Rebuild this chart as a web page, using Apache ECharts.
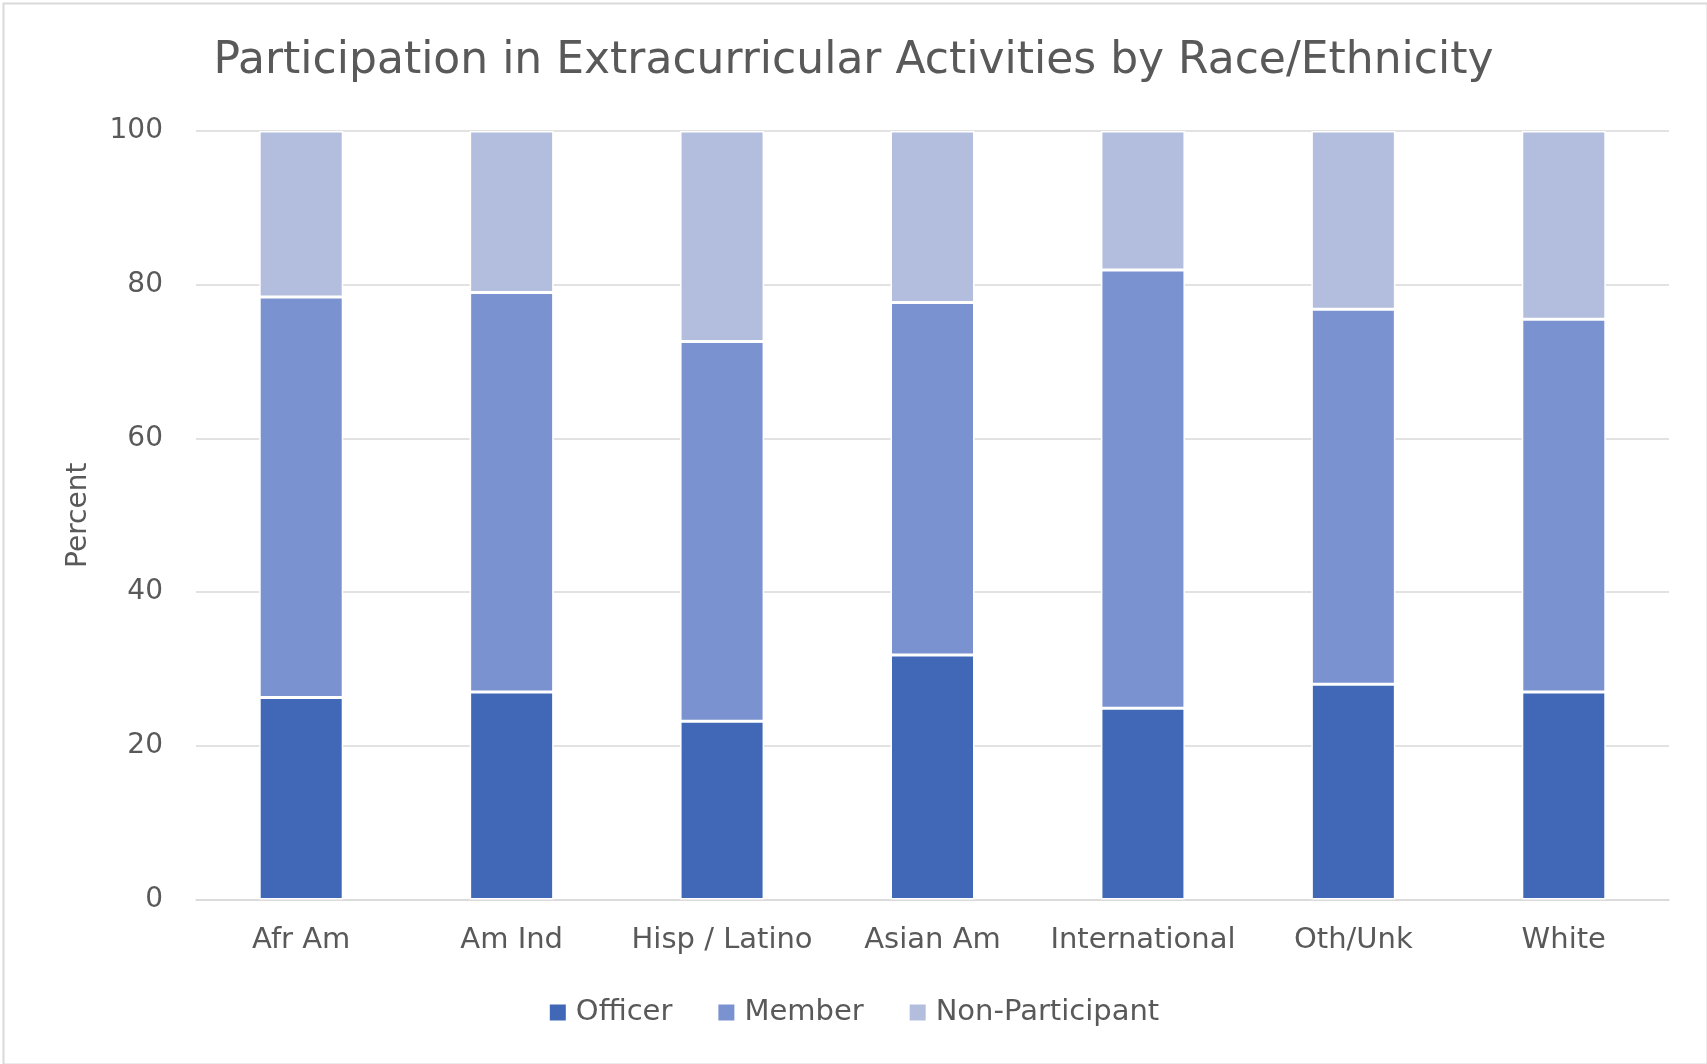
<!DOCTYPE html>
<html>
<head>
<meta charset="utf-8">
<script src="https://cdn.jsdelivr.net/npm/echarts@6/dist/echarts.min.js"></script>
<style>
html,body{margin:0;padding:0;background:#fff;}
#c{width:1707px;height:1064px;}
</style>
</head>
<body>
<div id="c"></div>
<script>
const categories = ["Afr Am", "Am Ind", "Hisp / Latino", "Asian Am", "International", "Oth/Unk", "White"];
const officer = [26.3, 27.0, 23.2, 31.8, 24.9, 28.0, 27.0];
const member = [52.1, 52.0, 49.4, 45.9, 57.0, 48.8, 48.5];
const nonParticipant = [21.6, 21.0, 27.4, 22.3, 18.1, 23.2, 24.5];
const yTicks = [0, 20, 40, 60, 80, 100];

const FONT = "'DejaVu Sans', sans-serif";
const TXT = "#595959";
const chart = echarts.init(document.getElementById('c'));
function bar(name, data, color) {
  return {
    name: name, type: 'bar', stack: 'total', data: data, barWidth: 84,
    itemStyle: { color: color, borderColor: '#ffffff', borderWidth: 1.5 },
    emphasis: { disabled: true }
  };
}
chart.setOption({
  animation: false,
  backgroundColor: '#ffffff',
  textStyle: { fontFamily: FONT },
  graphic: [{
    type: 'rect', left: 1, top: 1, shape: { width: 1704, height: 1061 },
    style: { fill: 'none', stroke: '#D9D9D9', lineWidth: 2 }, silent: true
  }],
  title: {
    text: 'Participation in Extracurricular Activities by Race/Ethnicity',
    left: 'center', top: 35,
    textStyle: { fontFamily: FONT, fontSize: 44, fontWeight: 'normal', color: TXT }
  },
  legend: {
    bottom: 32, left: 'center', itemWidth: 18, itemHeight: 18, itemGap: 44,
    icon: 'rect',
    textStyle: { fontFamily: FONT, fontSize: 29, color: TXT, padding: [0, 0, 0, 4] },
    data: ['Officer', 'Member', 'Non-Participant']
  },
  grid: { left: 196, right: 38, top: 131, bottom: 164.5, containLabel: false },
  xAxis: {
    type: 'category', data: categories,
    axisLine: { lineStyle: { color: '#D9D9D9', width: 1.5 } },
    axisTick: { show: false },
    axisLabel: { color: TXT, fontFamily: FONT, fontSize: 29, margin: 26, interval: 0 }
  },
  yAxis: {
    type: 'value', min: yTicks[0], max: yTicks[yTicks.length - 1], interval: 20,
    name: 'Percent', nameLocation: 'middle', nameRotate: 90, nameGap: 103,
    nameTextStyle: { color: TXT, fontFamily: FONT, fontSize: 28 },
    axisLine: { show: false }, axisTick: { show: false },
    splitLine: { lineStyle: { color: '#D9D9D9', width: 1.5 } },
    axisLabel: { color: TXT, fontFamily: FONT, fontSize: 28, margin: 33 }
  },
  series: [
    bar('Officer', officer, '#4068B6'),
    bar('Member', member, '#7A92CF'),
    bar('Non-Participant', nonParticipant, '#B3BEDF')
  ]
});
</script>
</body>
</html>
